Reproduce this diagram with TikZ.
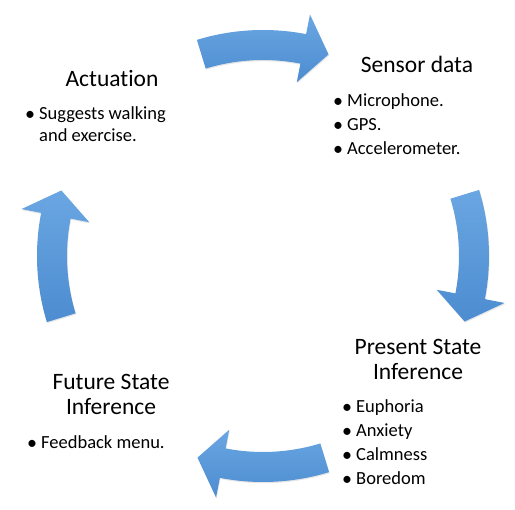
\documentclass[tikz,border=0pt]{standalone}
\usepackage{fontspec}
\setmainfont{Carlito}[Ligatures=NoCommon]
\usetikzlibrary{shadows}
\definecolor{arrowtop}{RGB}{106,166,226}
\definecolor{arrowbot}{RGB}{76,140,208}
\newcommand{\bul}{\makebox[13pt][l]{\hspace{-1pt}\raisebox{-0.5pt}{\fontsize{20}{24}\selectfont\textbullet}}}
\tikzset{
  cyclearrow/.style={top color=arrowtop, bottom color=arrowbot, draw=none,
    drop shadow={opacity=0.2, shadow xshift=0.6pt, shadow yshift=-1.2pt}},
  heading/.style={font=\fontsize{23.5}{25}\selectfont, align=center, inner sep=0pt},
  itemlist/.style={font=\fontsize{18.5}{24}\selectfont, align=left, inner sep=0pt}
}
\begin{document}
\begin{tikzpicture}[x=1pt,y=1pt]
\useasboundingbox (-265,-254) rectangle (250,256);
% four curved arrows round the cycle, clockwise
\foreach \a in {0,-90,-180,-270}
\path[cyclearrow, shift={(-2,0)}] ({107+\a}:226) arc[start angle=107+\a, end angle=79+\a, radius=226]
  -- ({79+\a}:246) -- ({72+\a}:212) -- ({79+\a}:177) -- ({79+\a}:196)
  arc[start angle=79+\a, end angle=107+\a, radius=196] -- cycle;
% the four stages (base = last line)
\node[heading, anchor=base] (act) at (-153,169) {Actuation};
\node[itemlist, anchor=base west] (actlist) at (-239,114)
  {\bul Suggests walking\\[-2pt]\hspace*{13pt}and exercise.};
\node[heading, anchor=base] (sens) at (152,183) {Sensor data};
\node[itemlist, anchor=base west] (senslist) at (69,101)
  {\bul Microphone.\\\bul GPS.\\\bul Accelerometer.};
\node[heading, anchor=base] (pres) at (153,-124) {Present State\\Inference};
\node[itemlist, anchor=base west] (preslist) at (78,-229)
  {\bul Euphoria\\\bul Anxiety\\\bul Calmness\\\bul Boredom};
\node[heading, anchor=base] (fut) at (-154,-159) {Future State\\Inference};
\node[itemlist, anchor=base west] (futlist) at (-237,-193) {\bul Feedback menu.};
\end{tikzpicture}
\end{document}
